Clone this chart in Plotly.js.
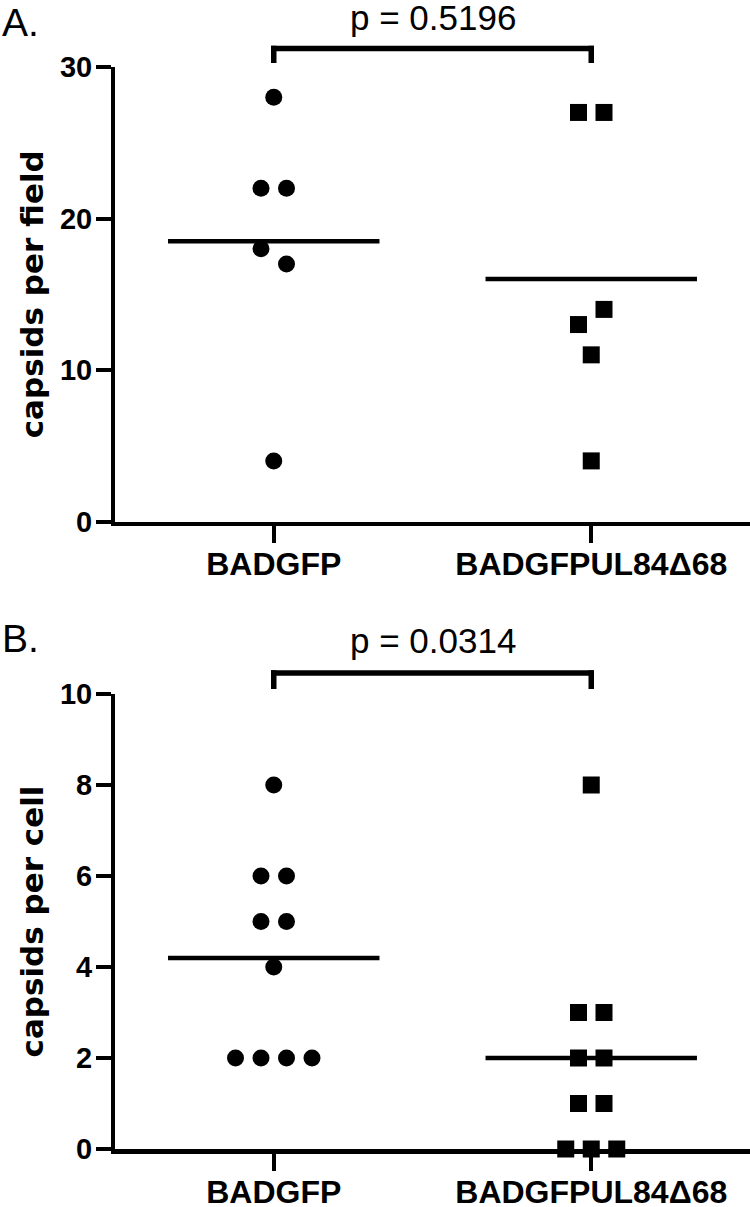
<!DOCTYPE html>
<html><head><meta charset="utf-8">
<script src="https://cdn.plot.ly/plotly-3.0.1.min.js"></script>
<style>html,body{margin:0;padding:0;background:#fff}</style>
</head><body>
<div id="chart" style="width:750px;height:1207px"></div>
<script>
// ---------- data ----------
const categories = ['BADGFP', 'BADGFPUL84Δ68'];
const fieldBADGFP = [28, 22, 22, 18, 17, 4];
const fieldUL84 = [27, 27, 13, 14, 11, 4];
const cellBADGFP = [8, 6, 6, 5, 5, 4, 2, 2, 2, 2];
const cellUL84 = [8, 3, 3, 2, 2, 1, 1, 0, 0, 0];
const pTextA = 'p = 0.5196';
const pTextB = 'p = 0.0314';
const yTitleA = 'capsids per field';
const yTitleB = 'capsids per cell';
const panelA = 'A.';
const panelB = 'B.';

// ---------- layout constants ----------
const W = 750, H = 1207;
const SANS = 'Liberation Sans, Arial, Helvetica, sans-serif';
const WIDE = 'DejaVu Sans, Verdana, sans-serif';
const MARKER = 17, SPACING_PX = 25.5, MEAN_HALF = 0.333;
const xDomain = [115 / W, 1];
const xRange = [-0.5, 1.5];
const yDomainA = [1 - 521.5 / H, 1 - 67 / H];
const yDomainB = [1 - 1149 / H, 1 - 694 / H];
const yRangeA = [0, 30];
const yRangeB = [0, 10];

const pxPerX = W * (xDomain[1] - xDomain[0]) / (xRange[1] - xRange[0]);
const pxPerYA = H * (yDomainA[1] - yDomainA[0]) / (yRangeA[1] - yRangeA[0]);
const pxPerYB = H * (yDomainB[1] - yDomainB[0]) / (yRangeB[1] - yRangeB[0]);

// column-scatter layout: points that would overlap vertically are spread sideways
function swarm(values, pxPerY) {
  const idx = values.map((v, i) => i).sort((a, b) => values[b] - values[a] || a - b);
  const clusters = [];
  let cur = [];
  idx.forEach((i, k) => {
    if (k > 0 && (values[idx[k - 1]] - values[i]) * pxPerY >= MARKER) { clusters.push(cur); cur = []; }
    cur.push(i);
  });
  clusters.push(cur);
  const offs = new Array(values.length).fill(0);
  clusters.forEach(c => {
    const s = c.slice().sort((a, b) => a - b);
    s.forEach((i, j) => { offs[i] = (j - (s.length - 1) / 2) * SPACING_PX / pxPerX; });
  });
  return offs;
}
const mean = a => a.reduce((s, v) => s + v, 0) / a.length;

function pointsTrace(vals, catIndex, symbol, xa, ya, pxPerY) {
  const offs = swarm(vals, pxPerY);
  return {
    type: 'scatter', mode: 'markers', xaxis: xa, yaxis: ya,
    x: offs.map(o => catIndex + o), y: vals, cliponaxis: false,
    marker: {symbol: symbol, size: MARKER, color: '#000', line: {width: 0}},
    hoverinfo: 'y', showlegend: false
  };
}
function meanTrace(vals, catIndex, xa, ya) {
  const m = mean(vals);
  return {
    type: 'scatter', mode: 'lines', xaxis: xa, yaxis: ya,
    x: [catIndex - MEAN_HALF, catIndex + MEAN_HALF], y: [m, m],
    line: {color: '#000', width: 4.5}, hoverinfo: 'skip', showlegend: false
  };
}

const data = [
  meanTrace(fieldBADGFP, 0, 'x', 'y'),
  meanTrace(fieldUL84, 1, 'x', 'y'),
  pointsTrace(fieldBADGFP, 0, 'circle', 'x', 'y', pxPerYA),
  pointsTrace(fieldUL84, 1, 'square', 'x', 'y', pxPerYA),
  meanTrace(cellBADGFP, 0, 'x2', 'y2'),
  meanTrace(cellUL84, 1, 'x2', 'y2'),
  pointsTrace(cellBADGFP, 0, 'circle', 'x2', 'y2', pxPerYB),
  pointsTrace(cellUL84, 1, 'square', 'x2', 'y2', pxPerYB)
];

function xAx(anchor) {
  return {
    domain: xDomain, range: xRange, anchor: anchor,
    tickmode: 'array', tickvals: [0, 1], ticktext: categories,
    showline: true, linewidth: 4.5, linecolor: '#000',
    ticks: 'outside', ticklen: 17, tickwidth: 4, tickcolor: '#000',
    ticklabelstandoff: -6,
    showgrid: false, zeroline: false, fixedrange: true,
    tickfont: {family: SANS, size: 32, color: '#000', weight: 'bold'}
  };
}
function yAx(anchor, domain, range, dtick, title) {
  return {
    domain: domain, range: range, anchor: anchor,
    tickmode: 'linear', tick0: 0, dtick: dtick,
    showline: true, linewidth: 4, linecolor: '#000',
    ticks: 'outside', ticklen: 15, tickwidth: 4, tickcolor: '#000',
    ticklabelstandoff: -2,
    showgrid: false, zeroline: false, fixedrange: true,
    tickfont: {family: SANS, size: 29, color: '#000', weight: 'bold'},
    title: {text: title, standoff: 8, font: {family: WIDE, size: 31, color: '#000', weight: 'bold'}}
  };
}

// significance brackets between the two categories (in axis-domain units above the plot)
function bracket(xa, yd, hy, vy, domainPx) {
  const lw = 5.5;
  const ex = (lw / 2) / pxPerX;
  const ey = (lw / 2) / domainPx;
  const ln = {color: '#000', width: lw};
  return [
    {type: 'line', xref: xa, yref: yd, x0: 0 - ex, x1: 1 + ex, y0: hy, y1: hy, line: ln},
    {type: 'line', xref: xa, yref: yd, x0: 0, x1: 0, y0: vy, y1: hy + ey, line: ln},
    {type: 'line', xref: xa, yref: yd, x0: 1, x1: 1, y0: vy, y1: hy + ey, line: ln}
  ];
}

const layout = {
  width: W, height: H,
  margin: {l: 0, r: 0, t: 0, b: 0},
  paper_bgcolor: '#fff', plot_bgcolor: '#fff',
  showlegend: false,
  xaxis: xAx('y'),
  yaxis: yAx('x', yDomainA, yRangeA, 10, yTitleA),
  xaxis2: xAx('y2'),
  yaxis2: yAx('x2', yDomainB, yRangeB, 2, yTitleB),
  shapes: [].concat(
    bracket('x', 'y domain', 1.0407, 1.0088, H * (yDomainA[1] - yDomainA[0])),
    bracket('x2', 'y2 domain', 1.0462, 1.011, H * (yDomainB[1] - yDomainB[0]))
  ),
  annotations: [
    {text: pTextA, xref: 'x', x: 0.5, yref: 'y domain', y: 1.108, xanchor: 'center', yanchor: 'middle',
     showarrow: false, font: {family: SANS, size: 35, color: '#000'}},
    {text: pTextB, xref: 'x2', x: 0.5, yref: 'y2 domain', y: 1.1165, xanchor: 'center', yanchor: 'middle',
     showarrow: false, font: {family: SANS, size: 35, color: '#000'}},
    {text: panelA, xref: 'paper', x: 0, yref: 'paper', y: 1 - 22 / H, xanchor: 'left', yanchor: 'middle',
     showarrow: false, font: {family: SANS, size: 39, color: '#000'}},
    {text: panelB, xref: 'paper', x: 0, yref: 'paper', y: 1 - 638.5 / H, xanchor: 'left', yanchor: 'middle',
     showarrow: false, font: {family: SANS, size: 39, color: '#000'}}
  ]
};

Plotly.newPlot('chart', data, layout, {displayModeBar: false, staticPlot: true});
</script>
</body></html>
